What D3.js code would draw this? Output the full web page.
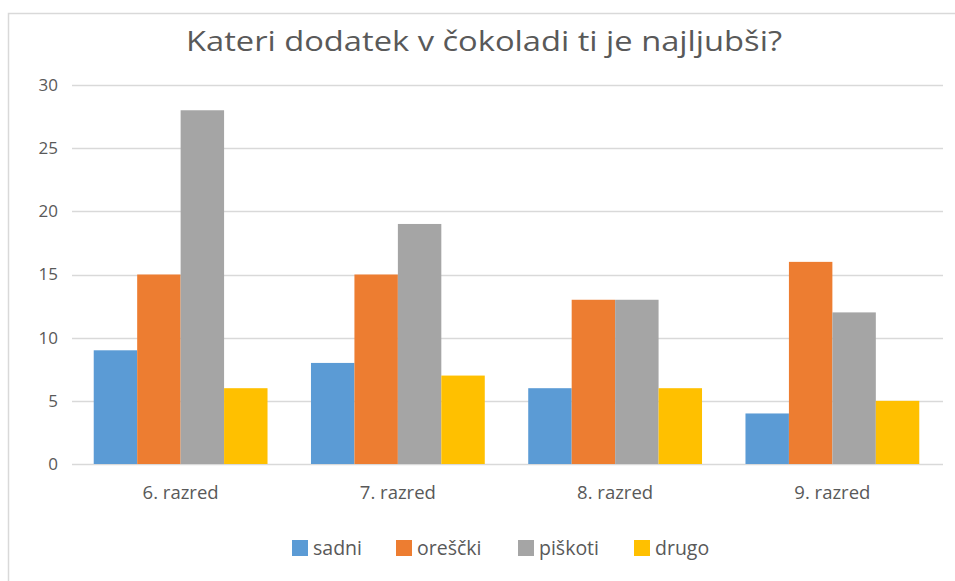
<!DOCTYPE html>
<html>
<head>
<meta charset="utf-8">
<script src="https://cdn.jsdelivr.net/npm/d3@7"></script>
<style>
  body { margin: 0; background: #fff; }
  svg { display: block; font-family: "Open Sans", "Noto Sans", sans-serif; }
</style>
</head>
<body>
<div id="chart"></div>
<script>
// Chart data
const title = "Kateri dodatek v čokoladi ti je najljubši?";
const categories = ["6. razred", "7. razred", "8. razred", "9. razred"];
const seriesNames = ["sadni", "oreščki", "piškoti", "drugo"];
const sadni = [9, 8, 6, 4];
const orescki = [15, 15, 13, 16];
const piskoti = [28, 19, 13, 12];
const drugo = [6, 7, 6, 5];
const yTicks = [0, 5, 10, 15, 20, 25, 30];
const colors = ["#5B9BD5", "#ED7D31", "#A5A5A5", "#FFC000"];

const seriesValues = [sadni, orescki, piskoti, drugo];
const rows = categories.map((c, i) => ({
    category: c,
    values: seriesNames.map((s, j) => ({ series: s, value: seriesValues[j][i] }))
}));

const W = 955, H = 581;
const margin = { top: 85, right: 15, bottom: 117, left: 72 };
const width = 941 - margin.left;
const height = H - margin.top - margin.bottom;

const svg = d3.select("#chart").append("svg")
    .attr("width", W)
    .attr("height", H);

// chart frame (runs off the right and bottom edges)
svg.append("rect")
    .attr("x", 8.5).attr("y", 13.5)
    .attr("width", W + 10).attr("height", H)
    .attr("fill", "#fff")
    .attr("stroke", "#D9D9D9")
    .attr("stroke-width", 1.5);

svg.append("text")
    .attr("x", 484).attr("y", 51)
    .attr("text-anchor", "middle")
    .attr("font-size", 27)
    .attr("fill", "#595959")
    .attr("textLength", 596)
    .attr("lengthAdjust", "spacingAndGlyphs")
    .text(title);

const g = svg.append("g").attr("transform", `translate(${margin.left},${margin.top})`);

const x0 = d3.scaleBand().domain(categories).range([0, width]).paddingInner(0.2).paddingOuter(0.1);
const x1 = d3.scaleBand().domain(seriesNames).range([0, x0.bandwidth()]);
const y = d3.scaleLinear().domain([0, 30]).range([height, 0]);
const color = d3.scaleOrdinal().domain(seriesNames).range(colors);

// gridlines
g.append("g")
    .selectAll("line")
    .data(yTicks)
    .join("line")
    .attr("x1", 0).attr("x2", width + 2)
    .attr("y1", d => Math.round(y(d)) + 0.5)
    .attr("y2", d => Math.round(y(d)) + 0.5)
    .attr("stroke", "#D9D9D9")
    .attr("stroke-width", 1.5);

// y axis labels
const yAxis = g.append("g")
    .call(d3.axisLeft(y).tickValues(yTicks).tickSize(0).tickPadding(14));
yAxis.select(".domain").remove();
yAxis.selectAll("text")
    .attr("font-size", 17)
    .attr("fill", "#595959")
    .attr("font-family", "'Open Sans', sans-serif");

// bars
g.append("g")
    .selectAll("g")
    .data(rows)
    .join("g")
    .attr("transform", d => `translate(${x0(d.category)},0)`)
    .selectAll("rect")
    .data(d => d.values)
    .join("rect")
    .attr("x", d => x1(d.series))
    .attr("y", d => y(d.value))
    .attr("width", x1.bandwidth())
    .attr("height", d => height - y(d.value))
    .attr("fill", d => color(d.series));

// x axis labels
const xAxis = g.append("g")
    .attr("transform", `translate(0,${height})`)
    .call(d3.axisBottom(x0).tickSize(0).tickPadding(22));
xAxis.select(".domain").remove();
xAxis.selectAll("text")
    .attr("font-size", 18.5)
    .attr("fill", "#595959")
    .attr("font-family", "'Open Sans', sans-serif");

// legend
const legendX = [292, 396, 518, 634];
const legend = svg.append("g")
    .selectAll("g")
    .data(seriesNames)
    .join("g")
    .attr("transform", (d, i) => `translate(${legendX[i]},540)`);
legend.append("rect")
    .attr("width", 16).attr("height", 16)
    .attr("fill", d => color(d));
legend.append("text")
    .attr("x", 21).attr("y", 15)
    .attr("font-size", 19.5)
    .attr("fill", "#595959")
    .text(d => d);
</script>
</body>
</html>
